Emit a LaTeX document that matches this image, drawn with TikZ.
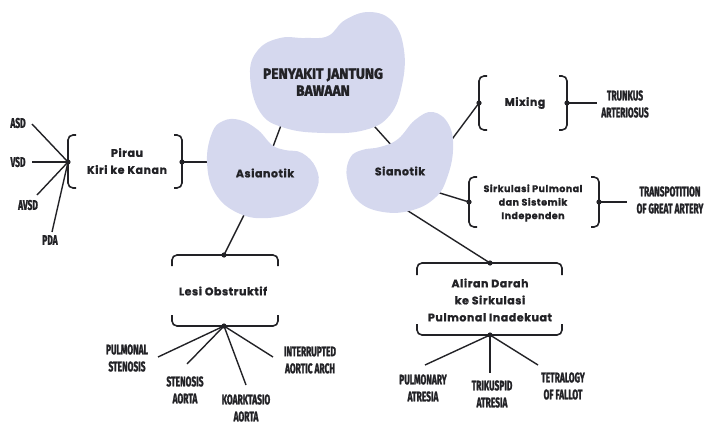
\documentclass[tikz,border=0pt]{standalone}
\usepackage{fontspec}
\setmainfont{Poppins}
\newfontfamily\capsfont[FakeStretch=0.6, BoldFeatures={FakeBold=1.6}]{Fira Sans}
\newfontfamily\headfont[FakeStretch=0.92, BoldFeatures={FakeBold=2}]{Fira Sans}
\newfontfamily\labfont[LetterSpace=5, BoldFeatures={FakeBold=1.2}]{Poppins}
\definecolor{blobc}{RGB}{213,216,238}
\definecolor{ink}{RGB}{34,34,38}
\tikzset{
  blob/.style={fill=blobc, draw=none},
  link/.style={draw=ink, line width=1.4pt},
  bracket/.style={draw=ink, line width=1.6pt, rounded corners=5pt},
  leaf/.style={font=\capsfont\bfseries\fontsize{14}{17}\selectfont, align=center, text=ink, inner sep=0pt},
  topic/.style={font=\labfont\bfseries\fontsize{11}{17}\selectfont, align=center, text=ink, inner sep=0pt},
  small/.style={font=\labfont\bfseries\fontsize{9.5}{13.5}\selectfont, align=center, text=ink, inner sep=0pt},
  head/.style={font=\headfont\bfseries\fontsize{15}{17}\selectfont, align=center, text=ink, inner sep=0pt},
}
\newcommand{\hub}[1]{\fill[ink] (#1) circle (2.6pt);}
\begin{document}
\begin{tikzpicture}[x=1pt,y=-1pt]
\useasboundingbox (0,0) rectangle (711,428);

% --- anchor points on the blobs and brackets ---
\coordinate (m1) at (283,120);
\coordinate (m2) at (366,117);
\coordinate (a1) at (271,152);
\coordinate (a2) at (215,162);
\coordinate (a3) at (249,205);
\coordinate (s1) at (393,147);
\coordinate (s2) at (444,150);
\coordinate (s3) at (430,190);
\coordinate (s4) at (405,209);

\coordinate (pirL) at (68,162);
\coordinate (pirR) at (182,162);
\coordinate (mixL) at (479,103);
\coordinate (mixR) at (567,103);
\coordinate (sirL) at (469,202);
\coordinate (sirR) at (599,202);
\coordinate (lesT) at (224,255);
\coordinate (lesB) at (224,326);
\coordinate (aliT) at (490,263);
\coordinate (aliB) at (490,335);

% leaf line ends
\coordinate (eASD) at (32,124);
\coordinate (eVSD) at (32,162);
\coordinate (eAVSD) at (37,195);
\coordinate (ePDA) at (52,232);
\coordinate (ePS) at (158,357);
\coordinate (eSA) at (187,364);
\coordinate (eKA) at (246,385);
\coordinate (eIAA) at (273,357);
\coordinate (ePA) at (425,365);
\coordinate (eTA) at (490,373);
\coordinate (eTOF) at (538,365);
\coordinate (eTR) at (597,103);
\coordinate (eTGA) at (627,202);

% --- connectors (drawn under the blobs) ---
\draw[link] (m1) -- (a1);
\draw[link] (m2) -- (s1);
\draw[link] (a2) -- (pirR);
\draw[link] (a3) -- (lesT);
\draw[link] (s2) -- (mixL);
\draw[link] (s3) -- (sirL);
\draw[link] (s4) -- (aliT);

\draw[link] (pirL) -- (eASD);
\draw[link] (pirL) -- (eVSD);
\draw[link] (pirL) -- (eAVSD);
\draw[link] (pirL) -- (ePDA);
\draw[link] (lesB) -- (ePS);
\draw[link] (lesB) -- (eSA);
\draw[link] (lesB) -- (eKA);
\draw[link] (lesB) -- (eIAA);
\draw[link] (aliB) -- (ePA);
\draw[link] (aliB) -- (eTA);
\draw[link] (aliB) -- (eTOF);
\draw[link] (mixR) -- (eTR);
\draw[link] (sirR) -- (eTGA);

% --- blobs ---
\fill[blob] plot[smooth cycle, tension=0.7] coordinates {
  (250,75) (258,50) (280,38) (305,38) (328,36) (345,20) (370,12) (393,22)
  (404,50) (402,85) (390,115) (365,130) (325,133) (285,128) (260,112)};
\fill[blob] plot[smooth cycle, tension=0.7] coordinates {
  (212,133) (223,121) (240,120) (258,130) (272,145) (285,150) (302,153)
  (316,168) (317,188) (300,209) (268,218) (238,213) (215,193) (207,162)};
\fill[blob] plot[smooth cycle, tension=0.7] coordinates {
  (350,158) (362,150) (380,147) (398,139) (415,120) (433,112) (449,125)
  (453,150) (447,178) (436,197) (413,210) (383,212) (358,201) (347,178)};

% --- brackets ---
\draw[bracket] (76,135) -- (68,135) -- (68,188) -- (76,188);
\draw[bracket] (174,135) -- (182,135) -- (182,188) -- (174,188);
\draw[bracket] (487,76) -- (479,76) -- (479,130) -- (487,130);
\draw[bracket] (559,76) -- (567,76) -- (567,130) -- (559,130);
\draw[bracket] (477,177) -- (469,177) -- (469,227) -- (477,227);
\draw[bracket] (591,177) -- (599,177) -- (599,227) -- (591,227);
\draw[bracket] (172,266) -- (172,255) -- (278,255) -- (278,266);
\draw[bracket] (172,315) -- (172,326) -- (278,326) -- (278,315);
\draw[bracket] (417,275) -- (417,263) -- (562,263) -- (562,275);
\draw[bracket] (417,324) -- (417,335) -- (562,335) -- (562,324);

\hub{pirL} \hub{pirR} \hub{mixL} \hub{mixR} \hub{sirL} \hub{sirR}
\hub{lesT} \hub{lesB} \hub{aliT} \hub{aliB}

% --- texts ---
\node[head] (main) at (323,82) {PENYAKIT JANTUNG\\BAWAAN};
\node[topic] (asi) at (265,173) {Asianotik};
\node[topic] (sia) at (400,171) {Sianotik};
\node[topic] (pir) at (127,161) {Pirau\\Kiri ke Kanan};
\node[topic] (mix) at (525,103) {Mixing};
\node[small] (sir) at (533,203) {Sirkulasi Pulmonal\\dan Sistemik\\Independen};
\node[topic] (les) at (223,291) {Lesi Obstruktif};
\node[topic] (ali) at (490,300) {Aliran Darah\\ke Sirkulasi\\Pulmonal Inadekuat};

\node[leaf] (asd) at (18,123) {ASD};
\node[leaf] (vsd) at (18,162) {VSD};
\node[leaf] (avsd) at (28,205) {AVSD};
\node[leaf] (pda) at (50,240) {PDA};
\node[leaf] (ps) at (127,358) {PULMONAL\\STENOSIS};
\node[leaf] (sa) at (185,390) {STENOSIS\\AORTA};
\node[leaf] (ka) at (246,408) {KOARKTASIO\\AORTA};
\node[leaf] (iaa) at (310,360) {INTERRUPTED\\AORTIC ARCH};
\node[leaf] (pa) at (423,388) {PULMONARY\\ATRESIA};
\node[leaf] (ta) at (492,394) {TRIKUSPID\\ATRESIA};
\node[leaf] (tof) at (563,386) {TETRALOGY\\OF FALLOT};
\node[leaf] (tr) at (625,104) {TRUNKUS\\ARTERIOSUS};
\node[leaf] (tga) at (670,200) {TRANSPOTITION\\OF GREAT ARTERY};
\end{tikzpicture}
\end{document}
